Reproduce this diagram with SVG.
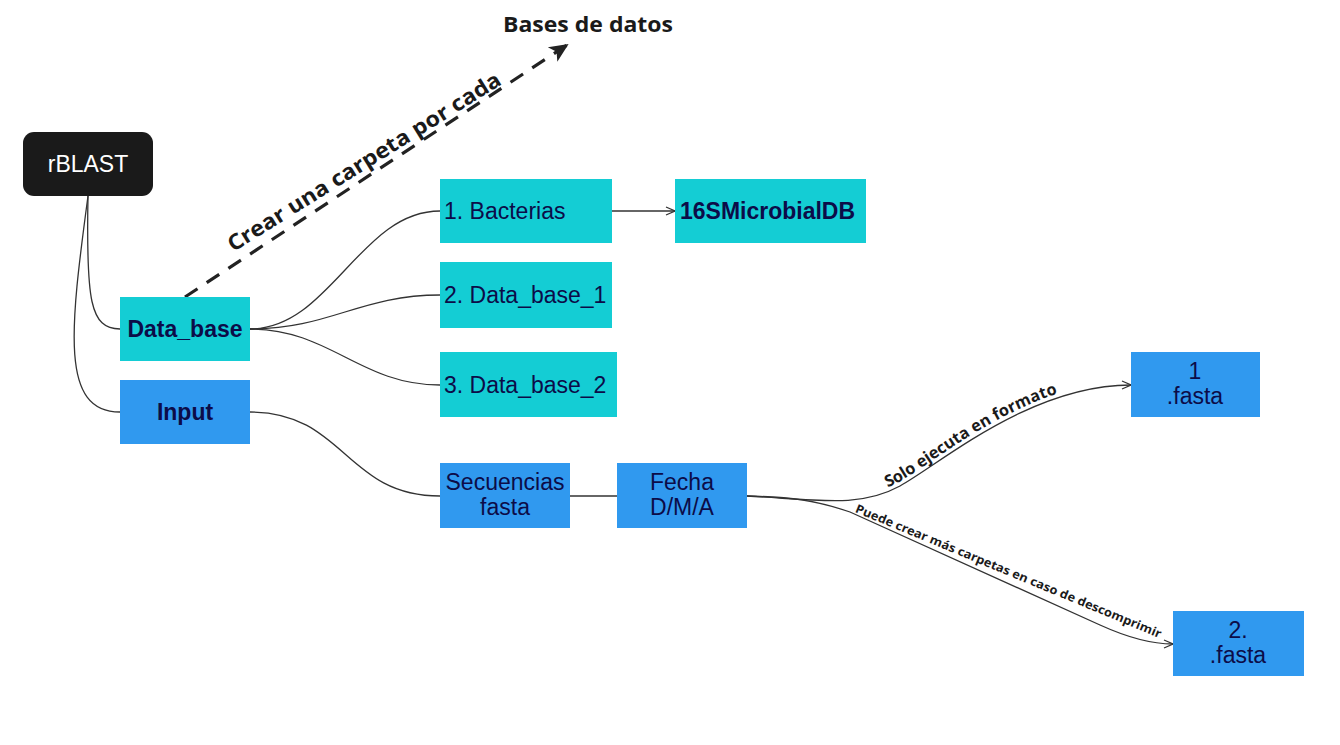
<svg xmlns="http://www.w3.org/2000/svg" width="1340" height="745" viewBox="0 0 1340 745">
<defs>
<style>
.teal{fill:#14CDD4}
.blue{fill:#3099EF}
.nt{font-family:"Liberation Sans",Arial,sans-serif;font-size:23px;fill:#0C0C48}
.b{font-weight:bold}
.c{text-anchor:middle}
.conn{fill:none;stroke:#333;stroke-width:1.3}
.lbl{font-family:"Open Sans","Noto Sans",sans-serif;font-weight:bold;fill:#1a1a1a}
</style>
<marker id="open" viewBox="0 0 10 10" refX="10" refY="5" markerWidth="10" markerHeight="10" markerUnits="userSpaceOnUse" orient="auto">
<path d="M1,1 L10,5 L1,9" fill="none" stroke="#333" stroke-width="1.3"/>
</marker>
<marker id="solid" viewBox="0 0 10 10" refX="9" refY="5" markerWidth="6" markerHeight="6" orient="auto">
<path d="M0,0.5 L10,5 L0,9.5 L2.5,5 z" fill="#222"/>
</marker>
</defs>
<rect width="1340" height="745" fill="#fff"/>

<g id="connectors">
<path class="conn" d="M88,196 C86,300 90,329 120,329"/>
<path class="conn" d="M88,196 C70,330 60,412 120,412"/>
<path class="conn" d="M250,329 C330,329 360,211 440,211"/>
<path class="conn" d="M250,329 C330,329 360,295 440,295"/>
<path class="conn" d="M250,329 C330,329 360,385 440,385"/>
<path class="conn" d="M612,211 L675,211" marker-end="url(#open)"/>
<path class="conn" d="M250,412 C345,412 345,496 440,496"/>
<path class="conn" d="M570,496 L617,496"/>
<path id="c1" class="conn" d="M747,496 C820,500 860,508 900,486 C940,464 1030,385 1131,385" marker-end="url(#open)"/>
<path class="conn" d="M747,496 C790,497 815,500 850,512 L1100,625 C1122,635 1150,644 1173,644" marker-end="url(#open)"/>
<path d="M185,297 L567,45" fill="none" stroke="#222" stroke-width="3.2" stroke-dasharray="15,11" marker-end="url(#solid)"/>
<text class="lbl" font-size="21.5" text-anchor="middle" textLength="318" lengthAdjust="spacingAndGlyphs" transform="translate(368,168) rotate(-32)">Crear una carpeta por cada</text>
<text class="lbl" font-size="16.3" dy="-4"><textPath href="#c1" startOffset="144">Solo ejecuta en formato</textPath></text>
<text class="lbl" font-size="12" text-anchor="middle" textLength="330" lengthAdjust="spacingAndGlyphs" transform="translate(1007,575) rotate(22.5)">Puede crear más carpetas en caso de descomprimir</text>
</g>

<text class="lbl" x="503" y="32" font-size="22" textLength="170" lengthAdjust="spacingAndGlyphs">Bases de datos</text>

<g id="rblast">
<rect x="23" y="132" width="130" height="64" rx="11" fill="#1a1a1a"/>
<text class="nt c" x="88" y="172" style="fill:#fff">rBLAST</text>
</g>
<g id="data_base">
<rect class="teal" x="120" y="297" width="130" height="64"/>
<text class="nt b c" x="185" y="337">Data_base</text>
</g>
<g id="input">
<rect class="blue" x="120" y="380" width="130" height="64"/>
<text class="nt b c" x="185" y="420">Input</text>
</g>
<g id="bacterias">
<rect class="teal" x="440" y="179" width="172" height="64"/>
<text class="nt" x="444" y="219">1. Bacterias</text>
</g>
<g id="microbialdb">
<rect class="teal" x="675" y="179" width="191" height="64"/>
<text class="nt b" x="680" y="219" textLength="175" lengthAdjust="spacingAndGlyphs">16SMicrobialDB</text>
</g>
<g id="data_base_1">
<rect class="teal" x="440" y="262" width="172" height="66"/>
<text class="nt" x="444" y="303">2. Data_base_1</text>
</g>
<g id="data_base_2">
<rect class="teal" x="440" y="352" width="177" height="65"/>
<text class="nt" x="444" y="393">3. Data_base_2</text>
</g>
<g id="secuencias">
<rect class="blue" x="440" y="463" width="130" height="65"/>
<text class="nt c" x="505" y="490">Secuencias</text>
<text class="nt c" x="505" y="515">fasta</text>
</g>
<g id="fecha">
<rect class="blue" x="617" y="463" width="130" height="65"/>
<text class="nt c" x="682" y="490">Fecha</text>
<text class="nt c" x="682" y="515">D/M/A</text>
</g>
<g id="fasta1">
<rect class="blue" x="1131" y="352" width="129" height="65"/>
<text class="nt c" x="1195" y="379">1</text>
<text class="nt c" x="1195" y="404">.fasta</text>
</g>
<g id="fasta2">
<rect class="blue" x="1173" y="611" width="131" height="65"/>
<text class="nt c" x="1238" y="638">2.</text>
<text class="nt c" x="1238" y="663">.fasta</text>
</g>
</svg>
